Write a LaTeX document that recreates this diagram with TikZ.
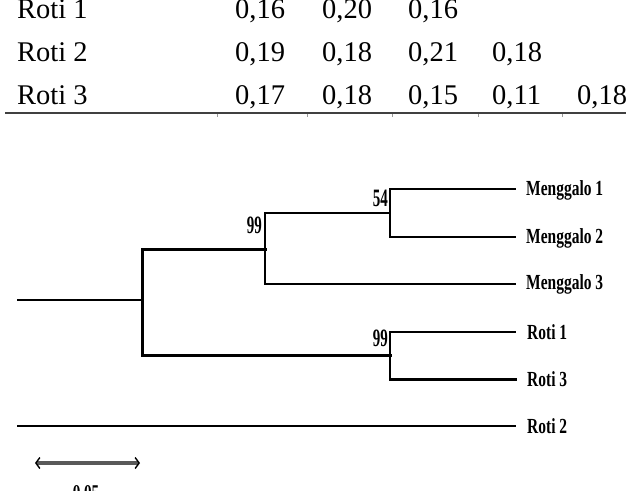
\documentclass[tikz,border=0pt]{standalone}
\usepackage{fontspec}
\setmainfont{Liberation Serif}
\newfontfamily\treefont[FakeStretch=0.72]{Liberation Serif}
\newfontfamily\bootfont[FakeStretch=0.6]{Liberation Serif}
\usetikzlibrary{arrows.meta}
\begin{document}
\begin{tikzpicture}[x=1pt,y=-1pt,
  thinline/.style={line width=1.4pt, black, line cap=rect},
  thickline/.style={line width=3pt, black, line cap=rect},
  tabtext/.style={font=\fontsize{28.5}{30}\selectfont, anchor=base west, inner sep=0pt},
  taxon/.style={font=\treefont\bfseries\fontsize{21.5}{23}\selectfont, anchor=west, inner sep=0pt},
  boot/.style={font=\bootfont\bfseries\fontsize{25}{26}\selectfont, anchor=east, inner sep=0pt},
  tabrule/.style={line width=2.2pt, black!75},
  tabtick/.style={line width=0.8pt, black!40}]
\useasboundingbox (0,0) rectangle (626,490);

% ---------- table fragment ----------
\node[tabtext] (t1) at (17,18) {Roti 1};
\node[tabtext] (t1a) at (235,18) {0,16};
\node[tabtext] (t1b) at (322,18) {0,20};
\node[tabtext] (t1c) at (408,18) {0,16};

\node[tabtext] (t2) at (17,61) {Roti 2};
\node[tabtext] (t2a) at (235,61) {0,19};
\node[tabtext] (t2b) at (322,61) {0,18};
\node[tabtext] (t2c) at (408,61) {0,21};
\node[tabtext] (t2d) at (492,61) {0,18};

\node[tabtext] (t3) at (17,104) {Roti 3};
\node[tabtext] (t3a) at (235,104) {0,17};
\node[tabtext] (t3b) at (322,104) {0,18};
\node[tabtext] (t3c) at (408,104) {0,15};
\node[tabtext] (t3d) at (492,104) {0,11};
\node[tabtext] (t3e) at (577,104) {0,18};

\coordinate (ruleL) at (5,113);
\coordinate (ruleR) at (626,113);
\draw[tabrule] (ruleL) -- (ruleR);
\foreach \x in {217,307,392,478,562}
  \draw[tabtick] (\x,114) -- (\x,117);

% ---------- tree ----------
\coordinate (root) at (18,300);
\coordinate (A) at (142,300);
\coordinate (B) at (265,249);
\coordinate (C) at (390,213);
\coordinate (D) at (390,355);
\coordinate (M1) at (515,189);
\coordinate (M2) at (515,237);
\coordinate (M3) at (515,284);
\coordinate (R1) at (515,332);
\coordinate (R3) at (515,379);
\coordinate (R2s) at (18,426);
\coordinate (R2) at (515,426);

\draw[thinline] (root) -- (A);
\draw[thickline] (A |- B) -- (A |- D);
\draw[thickline] (A |- B) -- (B);
\draw[thickline] (A |- D) -- (D);

\draw[thinline] (B |- C) -- (B |- M3);
\draw[thinline] (B |- C) -- (C);
\draw[thinline] (B |- M3) -- (M3);

\draw[thinline] (C |- M1) -- (C |- M2);
\draw[thinline] (C |- M1) -- (M1);
\draw[thinline] (C |- M2) -- (M2);

\draw[thinline] (D |- R1) -- (D |- R3);
\draw[thinline] (D |- R1) -- (R1);
\draw[thickline] (D |- R3) -- (R3);

\draw[thinline] (R2s) -- (R2);

% taxon labels
\node[taxon] (lM1) at ([xshift=11pt,yshift=-1pt]M1) {Menggalo 1};
\node[taxon] (lM2) at ([xshift=11pt,yshift=-1pt]M2) {Menggalo 2};
\node[taxon] (lM3) at ([xshift=11pt]M3) {Menggalo 3};
\node[taxon] (lR1) at ([xshift=12pt]R1) {Roti 1};
\node[taxon] (lR3) at ([xshift=12pt]R3) {Roti 3};
\node[taxon] (lR2) at ([xshift=12pt]R2) {Roti 2};

% bootstrap values
\node[boot] (bB) at (262,225) {99};
\node[boot] (bC) at (388,198) {54};
\node[boot] (bD) at (388,338) {99};

% scale bar
\coordinate (sbL) at (35,463);
\coordinate (sbR) at (140,463);
\draw[line width=3.6pt, black!65, {Straight Barb[black, length=4pt, width=11pt, line width=1.4pt]}-{Straight Barb[black, length=4pt, width=11pt, line width=1.4pt]}] (sbL) -- (sbR);
\node[font=\treefont\bfseries\fontsize{21}{22}\selectfont, anchor=north, inner sep=0pt] (sbT) at (86,485) {0,05};
\end{tikzpicture}
\end{document}
